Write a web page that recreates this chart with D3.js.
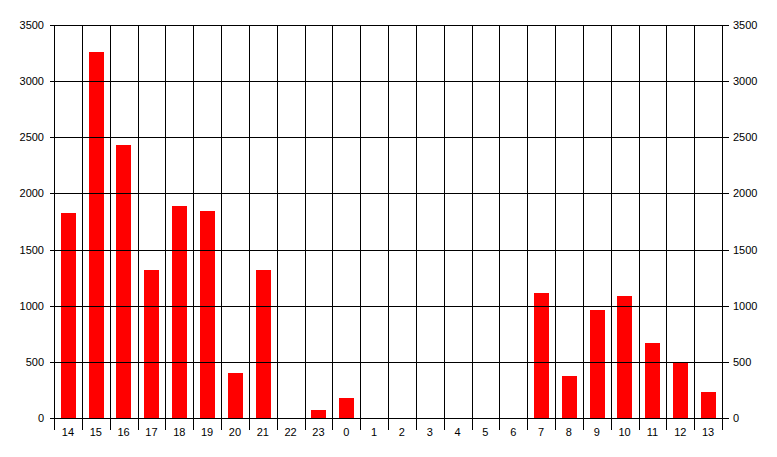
<!DOCTYPE html>
<html><head><meta charset="utf-8">
<script src="https://cdn.jsdelivr.net/npm/d3@7"></script>
<style>body{margin:0;background:#fff}svg{display:block}text{font-family:"Liberation Sans",Arial,sans-serif;font-size:11px}</style>
</head><body>
<script>
const categories = ["14","15","16","17","18","19","20","21","22","23","0","1","2","3","4","5","6","7","8","9","10","11","12","13"];
const values = [1830,3260,2430,1320,1890,1840,400,1320,0,70,180,0,0,0,0,0,0,1110,370,960,1090,670,500,230];
const yTicks = [0,500,1000,1500,2000,2500,3000,3500];

const W=777,H=457, L=54, R=722, T=25, B=418;
const svg=d3.select("body").append("svg").attr("width",W).attr("height",H);
const x=d3.scaleBand().domain(categories).range([L,R]).paddingInner(0).paddingOuter(0);
const y=d3.scaleLinear().domain([0,3500]).range([B,T]);
const g=svg.append("g").attr("shape-rendering","crispEdges");

// bars
const bw=x.bandwidth()*0.55;
g.selectAll(".bar").data(values).enter().append("rect")
 .attr("x",(d,i)=>Math.round(x(categories[i])+(x.bandwidth()-bw)/2+0.5))
 .attr("width",Math.round(bw))
 .attr("y",d=>Math.round(y(d)))
 .attr("height",d=>Math.max(0,Math.round(y(0))-Math.round(y(d))))
 .attr("fill","#ff0000");
// horizontal gridlines
g.selectAll(".hg").data(yTicks).enter().append("line")
 .attr("x1",L-4).attr("x2",R+7).attr("y1",d=>Math.round(y(d))+0.5).attr("y2",d=>Math.round(y(d))+0.5)
 .attr("stroke","#000");
// vertical gridlines at category boundaries
const bounds=categories.map(c=>x(c)).concat([R]);
g.selectAll(".vg").data(bounds).enter().append("line")
 .attr("x1",d=>Math.round(d)+0.5).attr("x2",d=>Math.round(d)+0.5)
 .attr("y1",T).attr("y2",B+12).attr("stroke","#000");
// left labels
svg.selectAll(".yl").data(yTicks).enter().append("text")
 .attr("x",44).attr("y",d=>y(d)+4).attr("text-anchor","end").attr("fill","#000").text(d=>d);
svg.selectAll(".yr").data(yTicks).enter().append("text")
 .attr("x",733).attr("y",d=>y(d)+4).attr("text-anchor","start").attr("fill","#000").text(d=>d);
// x labels
svg.selectAll(".xl").data(categories).enter().append("text")
 .attr("x",d=>x(d)+x.bandwidth()/2).attr("y",436).attr("text-anchor","middle").attr("fill","#000").text(d=>d);
</script>
</body></html>
